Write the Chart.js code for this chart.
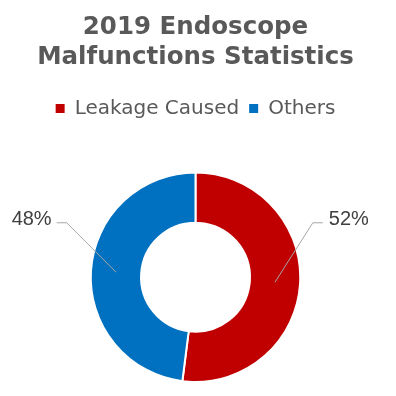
<!DOCTYPE html>
<html>
<head>
<meta charset="utf-8">
<script src="https://cdn.jsdelivr.net/npm/chart.js@4"></script>
<style>
  html, body { margin: 0; padding: 0; background: #ffffff; }
  #wrap { width: 396px; height: 396px; }
</style>
</head>
<body>
<div id="wrap"><canvas id="endoChart" width="396" height="396"></canvas></div>
<script>
// data
const titleLines = ["2019 Endoscope", "Malfunctions Statistics"];
const categories = ["Leakage Caused", "Others"];
const shares = [52, 48];
const sliceColors = ["#C00000", "#0070C0"];

// leader line elbows, as fraction of the outer radius (right slice, left slice)
const elbowOffsets = [{ dx: 1.12, dy: -0.52 }, { dx: -1.23, dy: -0.52 }];

// percentage labels outside the ring with a bent leader line
const pieLabels = {
  id: "pieLabels",
  afterDatasetsDraw(chart) {
    const ctx = chart.ctx;
    const meta = chart.getDatasetMeta(0);
    ctx.save();
    ctx.font = "20px 'Liberation Sans', Arial, sans-serif";
    ctx.fillStyle = "#404040";
    ctx.strokeStyle = "#A6A6A6";
    ctx.lineWidth = 1;
    ctx.textBaseline = "middle";
    meta.data.forEach((arc, i) => {
      const p = arc.getProps(["x", "y", "startAngle", "endAngle", "innerRadius", "outerRadius"], true);
      const mid = (p.startAngle + p.endAngle) / 2;
      const rMid = (p.innerRadius + p.outerRadius) / 2;
      const sx = p.x + Math.cos(mid) * rMid;
      const sy = p.y + Math.sin(mid) * rMid;
      const off = elbowOffsets[i];
      const ex = p.x + off.dx * p.outerRadius;
      const ey = p.y + off.dy * p.outerRadius;
      const right = off.dx > 0;
      const hx = ex + (right ? 10 : -10);
      ctx.beginPath();
      ctx.moveTo(sx, sy);
      ctx.lineTo(ex, ey);
      ctx.lineTo(hx, ey);
      ctx.stroke();
      ctx.textAlign = right ? "left" : "right";
      ctx.fillText(shares[i] + "%", hx + (right ? 6 : -5), ey - 3);
    });
    ctx.restore();
  }
};

const defaultLegendLabels = Chart.overrides.doughnut.plugins.legend.labels.generateLabels;

new Chart(document.getElementById("endoChart"), {
  type: "doughnut",
  data: {
    labels: categories,
    datasets: [{
      data: shares,
      backgroundColor: sliceColors,
      borderColor: "#ffffff",
      borderWidth: 2
    }]
  },
  options: {
    responsive: false,
    animation: false,
    cutout: "52%",
    layout: { padding: { left: 0, right: 5, top: 0, bottom: 13 } },
    plugins: {
      title: {
        display: true,
        text: titleLines,
        color: "#595959",
        font: { family: "'DejaVu Sans', sans-serif", size: 24.5, weight: "bold", lineHeight: 30 / 24.5 },
        padding: { top: 13, bottom: 15.5 }
      },
      legend: {
        display: true,
        position: "top",
        labels: {
          color: "#595959",
          font: { family: "'DejaVu Sans', sans-serif", size: 20 },
          boxWidth: 9,
          boxHeight: 9,
          padding: 10,
          // solid squares, no white outline
          generateLabels(chart) {
            return defaultLegendLabels(chart).map(item => ({ ...item, lineWidth: 0 }));
          }
        }
      },
      // empty spacer between legend and ring
      subtitle: {
        display: true,
        text: "",
        weight: 500,
        font: { size: 1, lineHeight: 1 },
        padding: { top: 0, bottom: 42 }
      },
      tooltip: { enabled: false }
    }
  },
  plugins: [pieLabels]
});
</script>
</body>
</html>
